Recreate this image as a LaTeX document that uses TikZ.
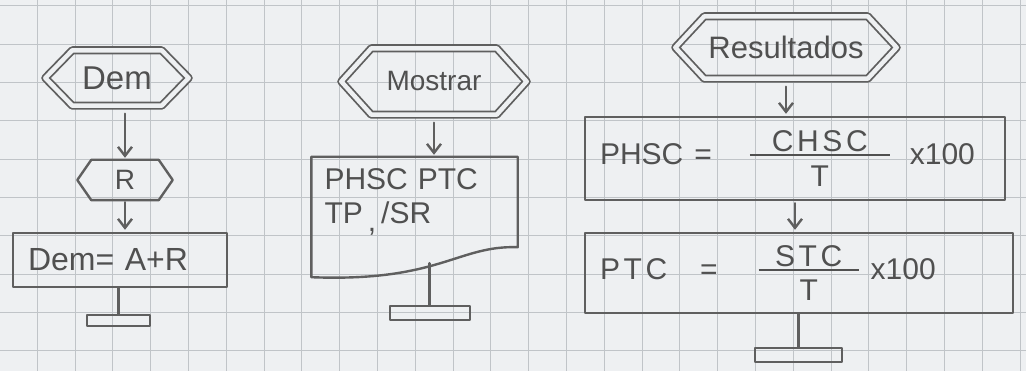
\documentclass[tikz,border=0pt]{standalone}
\usepackage{fontspec}
\setmainfont{Liberation Sans}
\usetikzlibrary{arrows.meta,calc}

\definecolor{paper}{RGB}{238,240,242}
\definecolor{gridc}{RGB}{192,196,200}
\definecolor{pencil}{RGB}{95,95,95}
\definecolor{ink}{RGB}{80,80,80}

% font size with explicit line spacing
\newcommand\hsz[2]{\fontsize{#1}{#2}\selectfont}
% loosely written letters
\newcommand\spaced[1]{{\addfontfeature{LetterSpace=12}#1}}
% fraction with a bar of given width: #1 width, #2 numerator, #3 denominator
\newcommand\barfrac[3]{$\vcenter{\hbox to #1{\hss#2\hss}\kern2pt\hrule height 2.2pt\kern9pt\hbox to #1{\hss#3\hss}}$}
% hexagonal outline around a node: #1 style, #2 node, #3 chamfer run
\newcommand\hexof[3]{%
  \path[#1] (#2.west) -- ($(#2.north west)+(#3,0)$) -- ($(#2.north east)+(-#3,0)$)
    -- (#2.east) -- ($(#2.south east)+(-#3,0)$) -- ($(#2.south west)+(#3,0)$) -- cycle;}

\tikzset{
  pencil/.style={draw=pencil, line width=2.4pt, line join=round, line cap=round},
  dbl/.style={pencil, line width=1.8pt, double=paper, double distance=4.5pt},
  frame/.style={draw=none, inner sep=0pt, text=ink},
  procbox/.style={pencil, text=ink, align=left, inner xsep=15pt},
  flow/.style={pencil, -{Straight Barb[length=9pt,width=14pt]}, shorten <=8pt, shorten >=2pt},
  stem/.style={pencil},
  stopbar/.style={pencil, rectangle, inner sep=0pt},
  gridline/.style={draw=gridc, line width=1pt},
}

\begin{document}
\begin{tikzpicture}[x=1pt, y=-1pt]
  % squared paper
  \fill[paper] (0,0) rectangle (1026,371);
  \useasboundingbox (0,0) rectangle (1026,371);
  \foreach \k in {1,...,27} \draw[gridline] ({37.8*\k-0.5},0) -- ({37.8*\k-0.5},371);
  \foreach \k in {0,...,9} \draw[gridline] (0,{6+38.3*\k}) -- (1026,{6+38.3*\k});

  % ---------- first flow: Dem ----------
  \node[frame, minimum width=143pt, minimum height=55pt, font=\hsz{33}{36}] (dem) at (117,78) {Dem};
  \hexof{dbl}{dem}{27}
  \node[frame, minimum width=95pt, minimum height=40pt, font=\hsz{28}{32}] (r) at (125,180) {R};
  \hexof{pencil}{r}{14}
  \node[procbox, minimum width=214pt, minimum height=54pt, text width=184pt, font=\hsz{32}{36}] (sum) at (120,260) {Dem= A+R};
  \node[stopbar, minimum width=63pt, minimum height=11pt] (end1) at (118.5,320.5) {};
  \draw[flow] (r.north |- dem.south) -- (r.north);
  \draw[flow, shorten <=2pt] (r.south) -- (r.south |- sum.north);
  \draw[stem] (sum.south -| end1.north) -- (end1.north);

  % ---------- second flow: Mostrar ----------
  \node[frame, minimum width=185pt, minimum height=66pt, font=\hsz{28}{32}] (show) at (434,81.5) {Mostrar};
  \hexof{dbl}{show}{30}
  \node[frame, minimum width=205pt, minimum height=90pt, text width=180pt, inner xsep=13pt, align=left, font=\hsz{30}{34}] (out) at (414.5,202) {PHSC PTC\\TP\,\raisebox{-8pt}{,}\,/SR};
  \path[pencil] ($(out.south west)+(0,30)$) -- (out.north west) -- (out.north east) -- (out.south east)
    .. controls ($(out.south east)+(-60,-2)$) and ($(out.south west)+(128,35)$) .. ($(out.south west)+(0,30)$);
  \coordinate (outfoot) at ($(out.south)+(15,16)$);
  \node[stopbar, minimum width=80pt, minimum height=14pt] (end2) at (430,313) {};
  \draw[flow] (show.south) -- (show.south |- out.north);
  \draw[stem] (outfoot) -- (outfoot |- end2.north);

  % ---------- third flow: Resultados ----------
  \node[frame, minimum width=221pt, minimum height=62pt, font=\hsz{31}{36}] (res) at (786,47.5) {Resultados};
  \hexof{dbl}{res}{29}
  \node[procbox, minimum width=420pt, minimum height=83pt, text width=390pt, font=\hsz{30}{34}] (phsc) at (795,158.5)
    {PHSC\hspace{11pt}=\hspace{38pt}\barfrac{140pt}{\spaced{CHSC}}{T}\hspace{20pt}x100};
  \node[procbox, minimum width=428pt, minimum height=80pt, text width=398pt, font=\hsz{30}{34}] (ptc) at (799,273)
    {\spaced{PTC}\hspace{33pt}=\hspace{41pt}\barfrac{100pt}{\spaced{STC}}{T}\hspace{12pt}x100};
  \node[stopbar, minimum width=87pt, minimum height=14pt] (end3) at (798.5,355) {};
  \draw[flow] (res.south) -- (res.south |- phsc.north);
  \draw[flow, shorten <=2pt] (phsc.south) -- (phsc.south |- ptc.north);
  \draw[stem] (ptc.south -| end3.north) -- (end3.north);
\end{tikzpicture}
\end{document}
